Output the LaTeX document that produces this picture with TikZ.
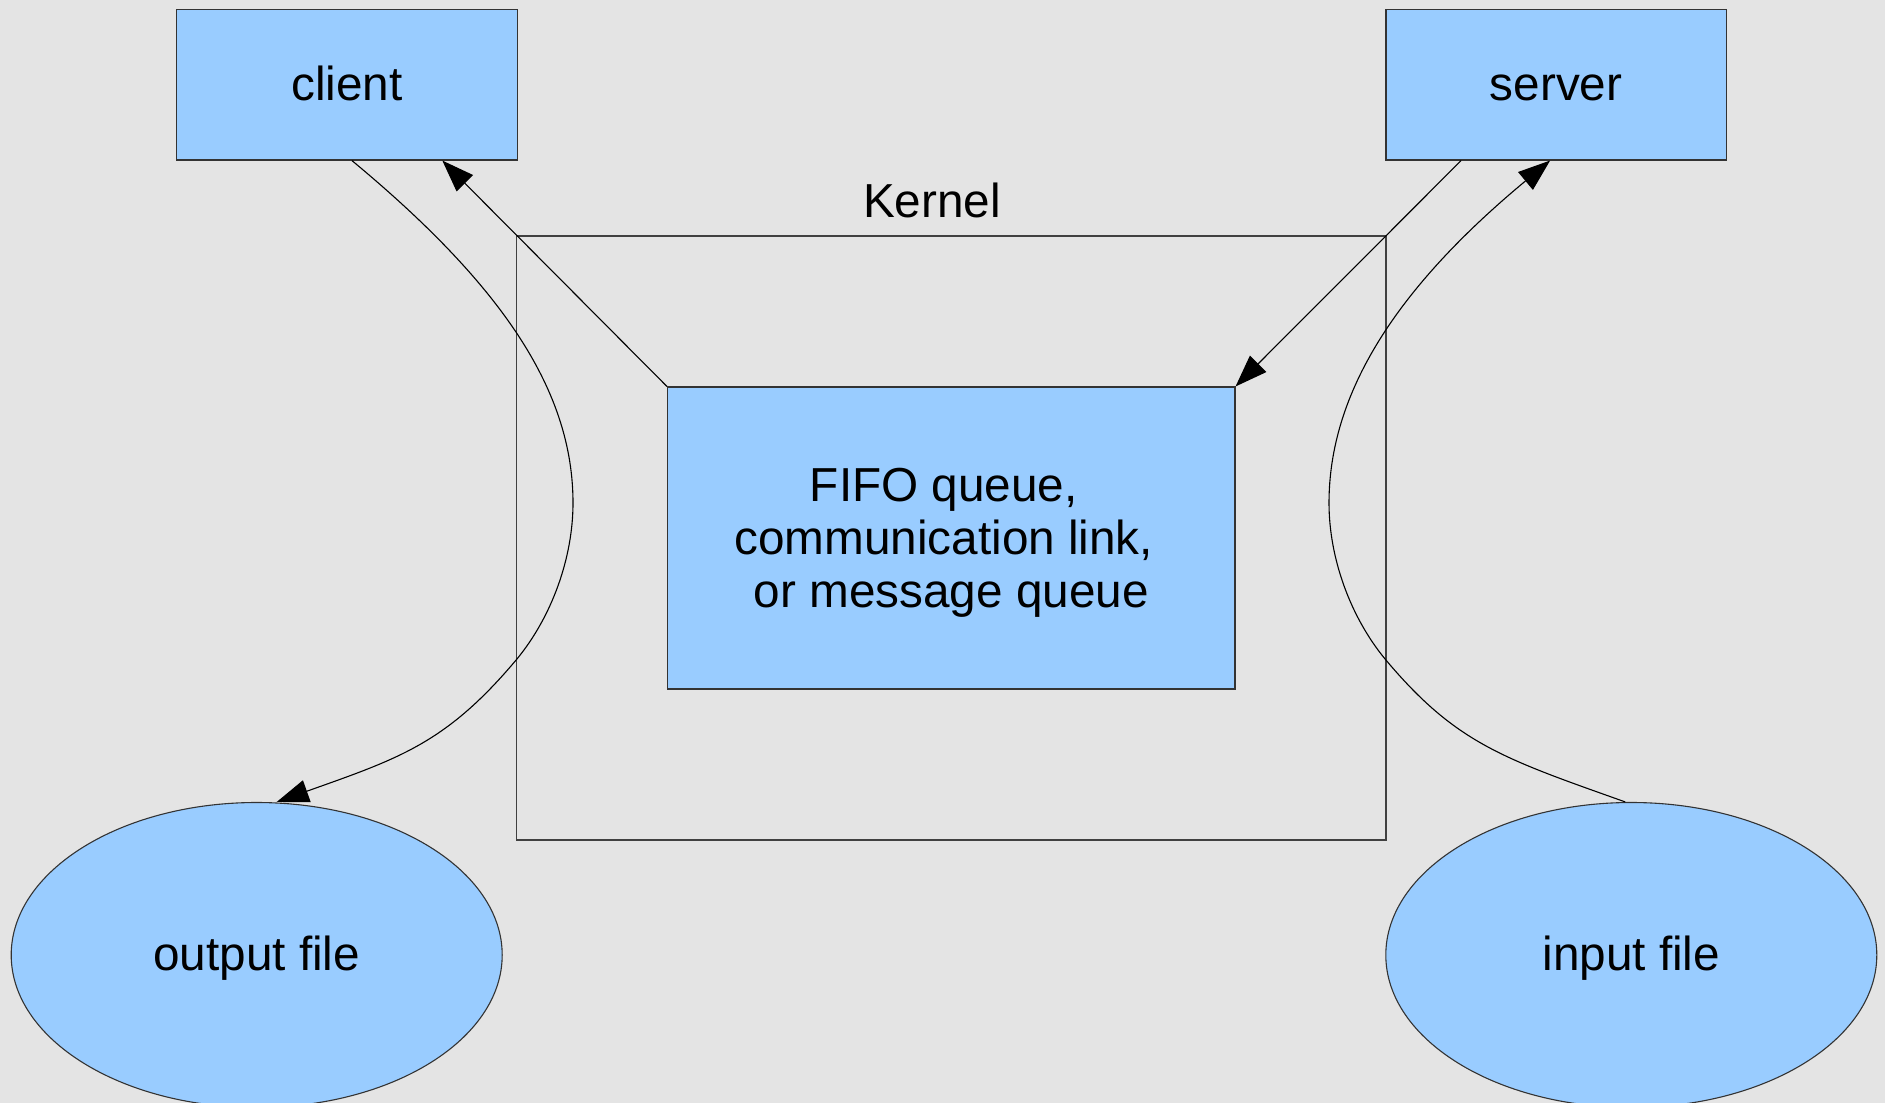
\documentclass[tikz,border=0pt]{standalone}
\usepackage{fontspec}
\setmainfont{Liberation Sans}
\usetikzlibrary{arrows.meta,shapes.geometric}
\definecolor{paper}{HTML}{E4E4E4}
\definecolor{boxblue}{HTML}{99CCFF}
\begin{document}
\begin{tikzpicture}[x=1pt,y=-1pt,
  every node/.style={font=\fontsize{47.7pt}{53.3pt}\selectfont, text=black},
  block/.style={draw=black!80, line width=1.1pt, fill=boxblue, inner sep=0pt},
  oneline/.style={text height=41pt, text depth=10pt},
  filebox/.style={block, oneline, ellipse, minimum width=491pt, minimum height=305pt},
  endpoint/.style={block, oneline, minimum width=340.3pt, minimum height=150.4pt},
  link/.style={line width=1.1pt, -{Triangle[length=32pt,width=23pt]}}]

% page background
\fill[paper] (0,0) rectangle (1885,1103);
\useasboundingbox (0,0) rectangle (1885,1103);

% kernel frame and its caption
\node[draw=black!75, line width=1.1pt, inner sep=0pt,
      minimum width=869.3pt, minimum height=604pt] (kernel) at (951.35,538) {};
\node (kernellabel) at (932,200) {Kernel};

% processes, queue and files
\node[endpoint] (client) at (346.9,84.8) {client};
\node[endpoint] (server) at (1556.1,84.8) {server};
\node[block, minimum width=567.5pt, minimum height=302pt, align=center] (fifo) at (951.25,538)
  {\rule{0pt}{43.2pt}FIFO queue,\rule{15pt}{0pt}\\
   communication link,\rule{15pt}{0pt}\\
   or message queue\rule[-10.1pt]{0pt}{0pt}};
\node[filebox] (outfile) at (256.7,955) {output file};
\node[filebox] (infile) at (1631.3,955) {input file};

% connectors
\draw[link] (fifo.north west) -- ([xshift=-75.3pt]client.south east);
\draw[link] ([xshift=75.7pt]server.south west) -- (fifo.north east);

\coordinate (lbend) at (573,503);
\coordinate (llow) at (516.7,659.3);
\coordinate (rbend) at (1329,503);
\coordinate (rlow) at (1385.3,659.3);

\draw[link] ([xshift=5pt]client.south)
  .. controls (505.6,288) and (573,393) .. (lbend)
  .. controls (573,558) and (551.7,616.9) .. (llow)
  .. controls (446,743.6) and (399,758.4) .. ([xshift=20pt]outfile.north);
\draw[link] ([xshift=-6pt]infile.north)
  .. controls (1503,758.4) and (1456,743.6) .. (rlow)
  .. controls (1350.3,616.9) and (1329,558) .. (rbend)
  .. controls (1329,393) and (1396.4,288) .. ([xshift=-6pt]server.south);
\end{tikzpicture}
\end{document}
